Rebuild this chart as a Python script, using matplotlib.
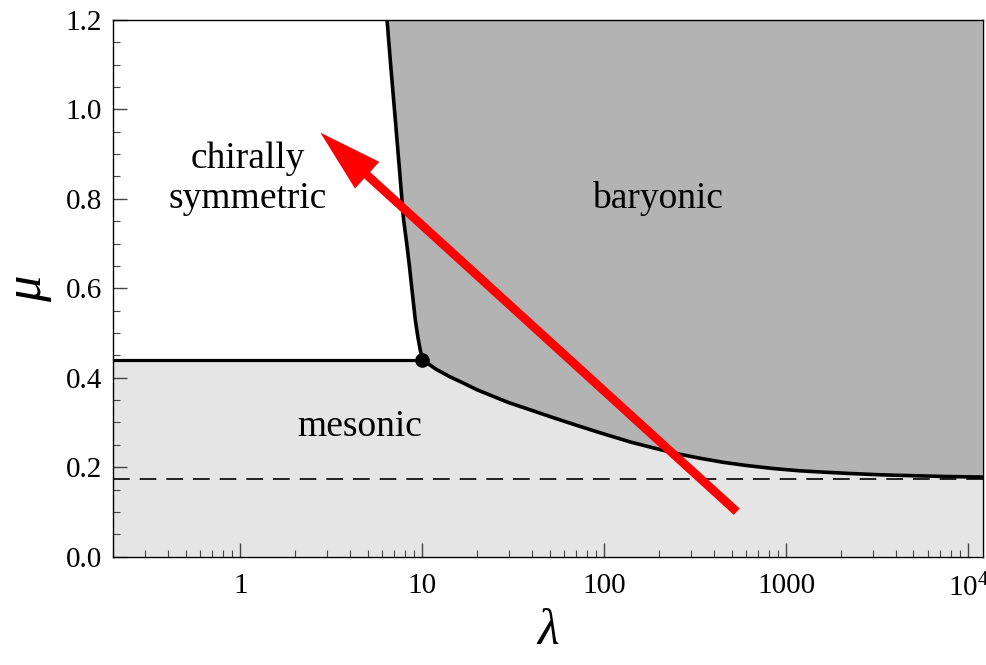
import matplotlib
matplotlib.use("Agg")
import matplotlib.pyplot as plt
import numpy as np
from matplotlib.ticker import FixedLocator, LogLocator, NullFormatter, MultipleLocator

plt.rcParams["font.family"] = ["Liberation Serif", "DejaVu Serif"]
plt.rcParams["mathtext.fontset"] = "custom"
plt.rcParams["mathtext.rm"] = "Liberation Serif"
plt.rcParams["mathtext.it"] = "Liberation Serif:italic"

# phase boundaries
upper_lam = [6.39, 6.72, 7.10, 7.48, 7.88, 8.20, 8.48, 8.80, 9.14, 9.45, 9.75, 10.0]
upper_mu = [1.20, 1.09, 0.976, 0.865, 0.753, 0.70, 0.65, 0.59, 0.529, 0.49, 0.46, 0.44]
lower_lam = [10.0, 12.0, 14.2, 17, 20, 25, 30, 40, 50.4, 70, 94.8, 140, 200, 260, 336,
             450, 600, 850, 1189, 1600, 2240, 3300, 5000, 8000, 12000]
lower_mu = [0.44, 0.418, 0.402, 0.387, 0.373, 0.357, 0.344, 0.327, 0.313, 0.294, 0.277,
            0.256, 0.240, 0.229, 0.220, 0.211, 0.204, 0.197, 0.192, 0.189, 0.186, 0.183,
            0.181, 0.179, 0.178]
crit_lam, crit_mu = 10.0, 0.44
asym_mu = 0.1737
arrow_tail = (534, 0.1006)
arrow_head = (2.75, 0.948)

x_ticks = [1, 10, 100, 1000, 10000]
x_labels = ["1", "10", "100", "1000", r"$10^4$"]
xmin, xmax = 0.2, 12000
ymin, ymax = 0.0, 1.2

fig = plt.figure(figsize=(9.87, 6.65), dpi=100)
ax = fig.add_axes([0.1148, 0.1629, 0.8808, 0.8071])
ax.set_xscale("log")
ax.set_xlim(xmin, xmax)
ax.set_ylim(ymin, ymax)

# mesonic region
mx = [xmin, xmin] + lower_lam + [xmax]
my = [0, crit_mu] + lower_mu + [0]
ax.fill(mx, my, color="#e5e5e5", lw=0, zorder=1)

# baryonic region
bx = upper_lam + lower_lam[1:] + [xmax, upper_lam[0]]
by = upper_mu + lower_mu[1:] + [ymax, ymax]
ax.fill(bx, by, color="#b3b3b3", lw=0, zorder=1)

# boundaries
ax.axhline(asym_mu, color="black", lw=1.2, dashes=(10, 6), zorder=2)
ax.plot([xmin, crit_lam], [crit_mu, crit_mu], color="black", lw=2.3, zorder=3)
ax.plot(upper_lam, upper_mu, color="black", lw=2.6, zorder=3, solid_joinstyle="round")
ax.plot(lower_lam, lower_mu, color="black", lw=2.6, zorder=3, solid_joinstyle="round")
ax.plot([crit_lam], [crit_mu], "o", color="black", ms=9.5, zorder=4)

# arrow
ax.annotate("", xy=arrow_head, xytext=arrow_tail,
            arrowprops=dict(arrowstyle="simple,head_length=0.91,head_width=0.52,tail_width=0.125",
                            mutation_scale=50, fc="#ff0000", lw=0,
                            shrinkA=0, shrinkB=0), zorder=5)

# region labels
ax.text(1.1, 0.845, "chirally\nsymmetric", fontsize=27, ha="center", va="center",
        linespacing=1.2, zorder=6)
ax.text(195, 0.80, "baryonic", fontsize=27, ha="center", va="center", zorder=6)
ax.text(4.5, 0.29, "mesonic", fontsize=27, ha="center", va="center", zorder=6)

# ticks
ax.xaxis.set_major_locator(FixedLocator(x_ticks))
ax.set_xticklabels(x_labels)
ax.xaxis.set_minor_locator(LogLocator(base=10, subs=np.arange(2, 10)))
ax.xaxis.set_minor_formatter(NullFormatter())
ax.yaxis.set_major_locator(MultipleLocator(0.2))
ax.yaxis.set_minor_locator(MultipleLocator(0.05))
ax.yaxis.set_major_formatter(plt.FormatStrFormatter("%.1f"))
ax.tick_params(which="both", direction="in", top=False, right=False, color="#444444")
ax.tick_params(which="major", length=10, width=1.0, labelsize=21)
ax.tick_params(which="minor", length=5, width=0.8)
ax.tick_params(axis="x", which="major", pad=12)
ax.tick_params(axis="y", which="major", pad=8)
for s in ax.spines.values():
    s.set_linewidth(1.0)
    s.set_zorder(7)

ax.set_xlabel("λ", fontsize=36, fontstyle="italic", labelpad=5)
ax.set_ylabel("μ", fontsize=38, fontstyle="italic", labelpad=10)

fig.savefig("out.png", dpi=100)
